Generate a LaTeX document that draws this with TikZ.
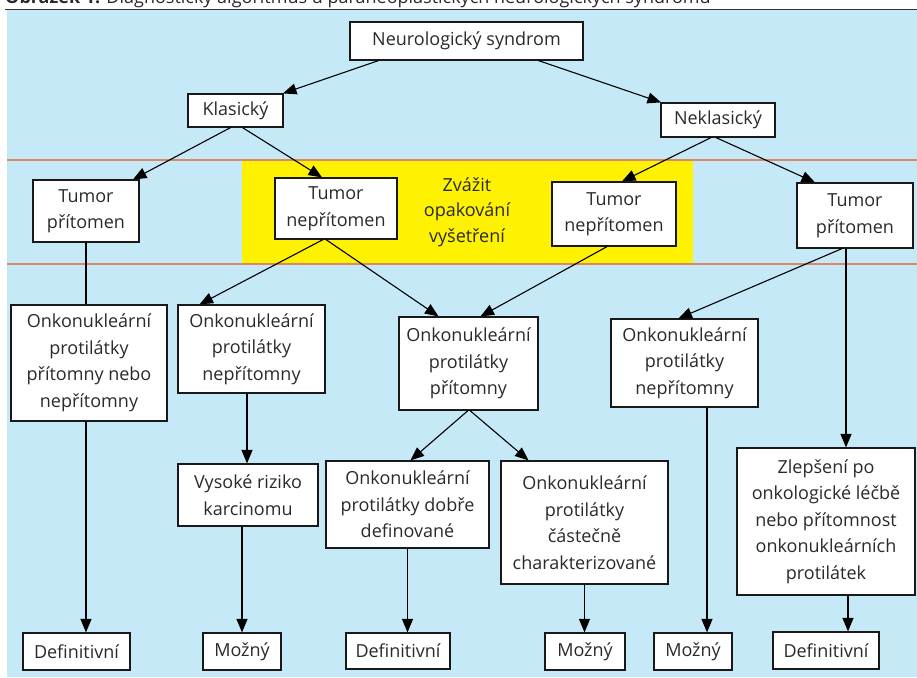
\documentclass[tikz,border=0pt]{standalone}
\usepackage{fontspec}
\setmainfont{Open Sans}
\usetikzlibrary{arrows.meta}
\definecolor{bgblue}{HTML}{C6E9F8}
\definecolor{hiyellow}{HTML}{FFF200}
\definecolor{bandline}{HTML}{DA8868}
\definecolor{txt}{HTML}{2A2A2A}
\begin{document}
\begin{tikzpicture}[x=1pt,y=-1pt,
  box/.style={draw=black!90, line width=1.2pt, fill=white, inner sep=0pt, align=center, text=txt, font=\fontsize{18}{26.5}\selectfont},
  conn/.style={line width=1.1pt, draw=black},
  arr/.style={conn, -{Triangle[length=13.5pt,width=11pt]}},
  plain/.style={text=txt, align=center, font=\fontsize{18}{25.5}\selectfont}
]
\useasboundingbox (0,0) rectangle (917,677);
\fill[bgblue] (7,10) rectangle (917,677);
\draw[black!80, line width=1pt] (5,10) -- (917,10);
\node[anchor=base west, text=txt, inner sep=0pt, font=\fontsize{18}{22}\selectfont] (cap) at (5,4) {\textbf{Obrázek 1.} Diagnostický algoritmus u paraneoplastických neurologických syndromů};
\fill[hiyellow] (242,160) rectangle (693,264);
\draw[bandline, line width=1.5pt] (7,160) -- (917,160);
\draw[bandline, line width=1.5pt] (7,264) -- (917,264);
\node[plain] (zvazit) at (467,212) {Zvážit\\opakování\\vyšetření};

\node[box, minimum width=233pt, minimum height=38pt] (neuro) at (466.5,41) {Neurologický syndrom};
\node[box, minimum width=95pt, minimum height=33pt] (klas) at (235.5,110.5) {Klasický};
\node[box, minimum width=114pt, minimum height=34pt] (neklas) at (718,120) {Neklasický};
\node[box, minimum width=106pt, minimum height=62pt] (tpL) at (86,211) {Tumor\\přítomen};
\node[box, minimum width=122pt, minimum height=61pt] (tnL) at (336,208.5) {Tumor\\nepřítomen};
\node[box, minimum width=124pt, minimum height=64pt] (tnR) at (614,214) {Tumor\\nepřítomen};
\node[box, minimum width=116pt, minimum height=65pt] (tpR) at (855,215.5) {Tumor\\přítomen};
\node[box, minimum width=156pt, minimum height=116pt] (onkoL) at (89,363) {Onkonukleární\\protilátky\\přítomny nebo\\nepřítomny};
\node[box, minimum width=147pt, minimum height=88pt] (onkoNL) at (251.5,349) {Onkonukleární\\protilátky\\nepřítomny};
\node[box, minimum width=139pt, minimum height=93pt] (onkoM) at (468.5,363.5) {Onkonukleární\\protilátky\\přítomny};
\node[box, minimum width=147pt, minimum height=88pt] (onkoNR) at (684.5,363) {Onkonukleární\\protilátky\\nepřítomny};
\node[box, minimum width=140pt, minimum height=62pt] (vys) at (248,495) {Vysoké riziko\\karcinomu};
\node[box, minimum width=163pt, minimum height=87pt] (dobre) at (407.5,504.5) {Onkonukleární\\protilátky dobře\\definované};
\node[box, minimum width=167pt, minimum height=123pt] (cast) at (584.5,522.5) {Onkonukleární\\protilátky\\částečně\\charakterizované};
\node[box, minimum width=178pt, minimum height=147pt] (zlep) at (826,521.5) {Zlepšení po\\onkologické léčbě\\nebo přítomnost\\onkonukleárních\\protilátek};
\node[box, minimum width=107pt, minimum height=37pt] (def1) at (76.5,651.5) {Definitivní};
\node[box, minimum width=78pt, minimum height=37pt] (moz1) at (242,651.5) {Možný};
\node[box, minimum width=104pt, minimum height=36pt] (def2) at (398,651) {Definitivní};
\node[box, minimum width=80pt, minimum height=37pt] (moz2) at (585,651.5) {Možný};
\node[box, minimum width=78pt, minimum height=37pt] (moz3) at (693,651.5) {Možný};
\node[box, minimum width=106pt, minimum height=37pt] (def3) at (826,650.5) {Definitivní};

% level 1
\draw[arr] ([xshift=-88pt]neuro.south) -- ([xshift=47.5pt]klas.north);
\draw[arr] ([xshift=72pt]neuro.south) -- ([xshift=-57pt]neklas.north);
% level 2
\draw[arr] ([xshift=-5pt]klas.south) -- ([xshift=47pt]tpL.north);
\draw[arr] ([xshift=7pt]klas.south) -- ([xshift=-14pt]tnL.north);
\draw[arr] ([xshift=-7pt]neklas.south) -- ([xshift=8pt]tnR.north);
\draw[arr] ([xshift=-2pt]neklas.south) -- ([xshift=-40pt]tpR.north);
% level 3
\draw[conn] (tpL.south) -- ([xshift=-3pt]onkoL.north);
\draw[arr] ([xshift=-13pt]tnL.south) -- ([xshift=-52pt]onkoNL.north);
\draw[arr] ([xshift=-10pt]tnL.south) -- ([xshift=-30pt]onkoM.north);
\draw[arr] ([xshift=-7pt]tnR.south) -- ([xshift=12pt]onkoM.north);
\draw[arr] ([xshift=-13pt]tpR.south) -- ([xshift=-6pt]onkoNR.north);
\draw[arr] ([xshift=-9pt]tpR.south) -- ([xshift=20pt]zlep.north);
% level 4
\draw[arr] ([xshift=-4.5pt]onkoNL.south) -- ([xshift=-1pt]vys.north);
\draw[arr] ([xshift=-0.5pt]onkoM.south) -- ([xshift=3pt]dobre.north);
\draw[arr] ([xshift=1.5pt]onkoM.south) -- ([xshift=-56pt]cast.north);
% bottom
\draw[arr] ([xshift=-3pt]onkoL.south) -- ([xshift=9.5pt]def1.north);
\draw[arr] ([xshift=-6pt]vys.south) -- (moz1.north);
\draw[arr] (dobre.south) -- ([xshift=9.5pt]def2.north);
\draw[arr] (cast.south) -- ([xshift=-0.5pt]moz2.north);
\draw[arr] ([xshift=22.5pt]onkoNR.south) -- ([xshift=14pt]moz3.north);
\draw[arr] ([xshift=22pt]zlep.south) -- ([xshift=22pt]def3.north);
\end{tikzpicture}
\end{document}
